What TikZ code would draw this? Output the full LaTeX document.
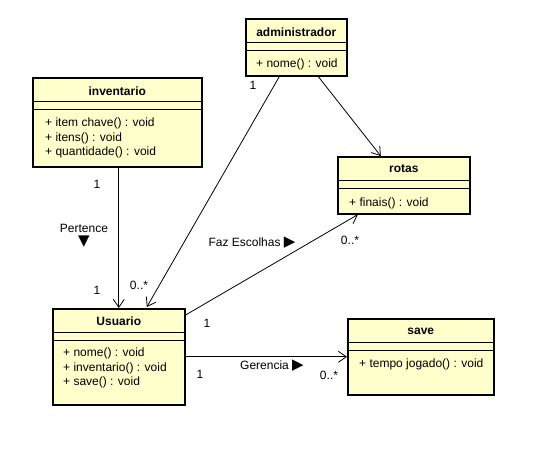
\documentclass[tikz,border=0pt]{standalone}
\usepackage{fontspec}
\setmainfont{Liberation Sans}
\newfontfamily\symfont{DejaVu Sans}
\newcommand\dirmark[1]{{\symfont\fontsize{15}{15}\selectfont #1}}
\usetikzlibrary{arrows.meta}
\definecolor{classfill}{RGB}{255,255,204}
\tikzset{
  classbox/.style={draw, line width=1.6pt, fill=classfill, anchor=north west, inner sep=0pt},
  classname/.style={font=\bfseries\fontsize{12}{14}\selectfont},
  members/.style={anchor=north west, align=left, inner sep=0pt, font=\fontsize{12}{14.5}\selectfont},
  mult/.style={font=\fontsize{12}{14}\selectfont, inner sep=0pt},
  sep/.style={line width=0.8pt},
  assoc/.style={line width=0.8pt, -{Straight Barb[length=8pt,width=11pt]}},
}

\begin{document}
\begin{tikzpicture}[x=1pt,y=-1pt]
\useasboundingbox (0,0) rectangle (536,448);
% classes
\node[classbox, minimum width=101pt, minimum height=57pt] (admin) at (245,18) {};
\node[classbox, minimum width=169pt, minimum height=89pt] (inv)   at (32,77)   {};
\node[classbox, minimum width=132pt, minimum height=57pt] (rotas) at (337,156) {};
\node[classbox, minimum width=132pt, minimum height=96pt] (usr)   at (52,308)  {};
\node[classbox, minimum width=146pt, minimum height=76pt] (save)  at (347,318) {};
\foreach \c in {admin,inv,rotas,usr,save} {
  \draw[sep] ([yshift=-24pt]\c.north west) -- ([yshift=-24pt]\c.north east);
  \draw[sep] ([yshift=-32pt]\c.north west) -- ([yshift=-32pt]\c.north east);
}
\node[classname] (admin name) at ([yshift=-14pt]admin.north) {administrador};
\node[classname] (inv name)   at ([yshift=-14pt]inv.north)   {inventario};
\node[classname] (rotas name) at ([yshift=-13pt]rotas.north) {rotas};
\node[classname] (usr name)   at ([yshift=-13pt]usr.north)   {Usuario};
\node[classname] (save name)  at ([yshift=-13pt]save.north)  {save};
\node[members] (admin ops) at ([xshift=11pt,yshift=-41pt]admin.north west) {+ nome() : void};
\node[members] (inv ops)   at ([xshift=13pt,yshift=-41pt]inv.north west)   {+ item chave() : void\\+ itens() : void\\+ quantidade() : void};
\node[members] (rotas ops) at ([xshift=12pt,yshift=-42pt]rotas.north west) {+ finais() : void};
\node[members] (usr ops)   at ([xshift=11pt,yshift=-40pt]usr.north west)   {+ nome() : void\\+ inventario() : void\\+ save() : void};
\node[members] (save ops)  at ([xshift=12pt,yshift=-41pt]save.north west)  {+ tempo jogado() : void};
% associations
\draw[assoc] (usr.north |- inv.south) -- (usr.north);
\draw[assoc] ([xshift=-17pt]admin.south) -- ([xshift=28pt,yshift=1pt]usr.north);
\draw[assoc] ([xshift=22pt]admin.south) -- ([xshift=-23pt]rotas.north);
\draw[assoc] ([yshift=-7pt]usr.north east) -- ([xshift=-46pt]rotas.south);
\draw[assoc] (usr.east) -- (save.west);
% labels
\node[mult] (inv one)    at (97,184)  {1};
\node[mult, align=center, anchor=north] (pertence) at (84,224) {Pertence\\[-1pt]\dirmark{▼}};
\node[mult] (usr one)    at (97,290)  {1};
\node[mult] (usr many)   at (139,285) {0..*};
\node[mult] (admin one)  at (253,85)  {1};
\node[mult] (faz)        at (252,243) {Faz Escolhas \dirmark{▶}};
\node[mult] (rotas many) at (350,240) {0..*};
\node[mult] (usr one b)  at (207,323) {1};
\node[mult] (usr one c)  at (200,374) {1};
\node[mult] (gerencia)   at (272,366) {Gerencia \dirmark{▶}};
\node[mult] (save many)  at (329,375) {0..*};
\end{tikzpicture}
\end{document}
